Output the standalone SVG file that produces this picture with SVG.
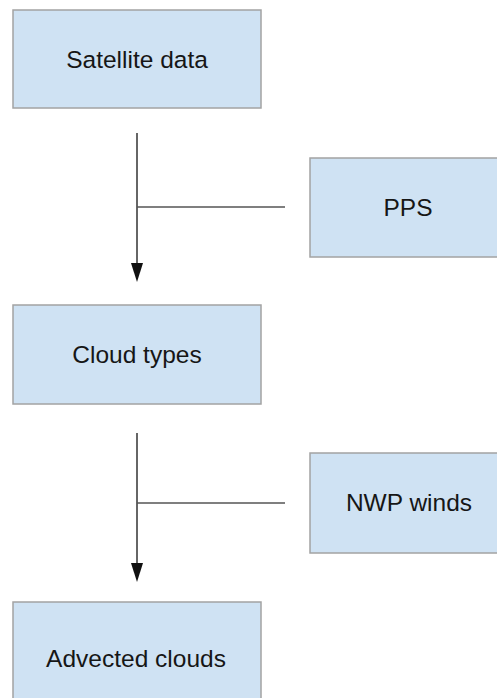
<svg xmlns="http://www.w3.org/2000/svg" width="497" height="698" viewBox="0 0 497 698">
<style>
.box{fill:#cfe2f3;stroke:#a3a3a3;stroke-width:1.5}
.lbl{font-family:"Liberation Sans",Arial,sans-serif;font-size:24.5px;fill:#161616;text-anchor:middle}
.v{stroke:#333;stroke-width:1.5;fill:none}
.h{stroke:#555;stroke-width:1.5;fill:none}
.ah{fill:#111}
</style>
<rect width="497" height="698" fill="#fff"/>
<g id="satellite">
<rect class="box" x="13" y="10" width="248" height="98"/>
<text class="lbl" x="137" y="68">Satellite data</text>
</g>
<g id="pps">
<rect class="box" x="310" y="158" width="200" height="99"/>
<text class="lbl" x="408" y="216">PPS</text>
</g>
<g id="cloudtypes">
<rect class="box" x="13" y="305" width="248" height="99"/>
<text class="lbl" x="137" y="363">Cloud types</text>
</g>
<g id="nwp">
<rect class="box" x="310" y="453" width="200" height="100"/>
<text class="lbl" x="409" y="511">NWP winds</text>
</g>
<g id="advected">
<rect class="box" x="13" y="602" width="248" height="110"/>
<text class="lbl" x="136" y="667">Advected clouds</text>
</g>
<g id="connectors">
<line class="v" x1="137" y1="133" x2="137" y2="265"/>
<polygon class="ah" points="131,263 143,263 137,282"/>
<line class="h" x1="137" y1="207" x2="285" y2="207"/>
<line class="v" x1="137" y1="433" x2="137" y2="565"/>
<polygon class="ah" points="131,563 143,563 137,582"/>
<line class="h" x1="137" y1="503" x2="285" y2="503"/>
</g>
</svg>
